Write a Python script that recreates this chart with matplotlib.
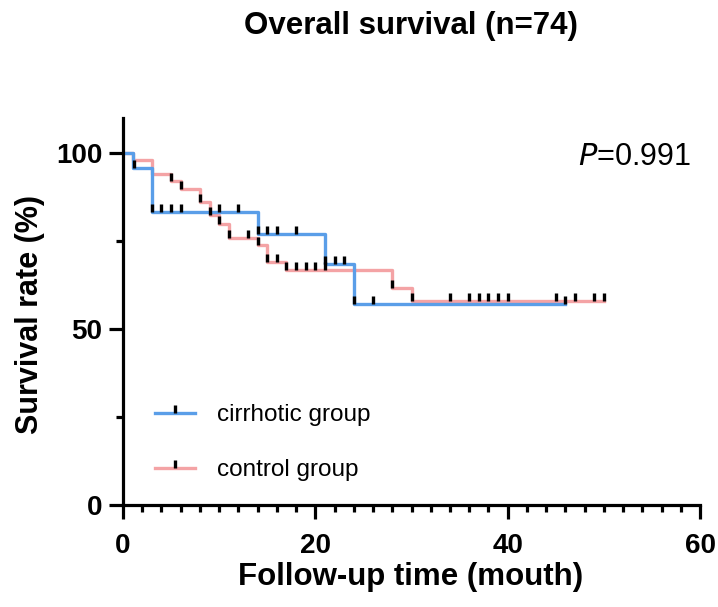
import numpy as np
import matplotlib
matplotlib.use('Agg')
import matplotlib.pyplot as plt
from matplotlib.lines import Line2D
from matplotlib.ticker import MultipleLocator, FixedLocator

plt.rcParams['font.family'] = ['Liberation Sans', 'DejaVu Sans']

# Kaplan-Meier steps (time in months, survival in %)
cirr_time = [0, 1, 3, 14, 21, 24, 46]
cirr_surv = [100, 95.8, 83.3, 77.0, 68.5, 57.0, 57.0]
cirr_censor = [1.1, 3, 4, 5, 6, 10, 12, 14, 15, 16, 18, 21, 22, 23, 24, 26, 46]

ctrl_time = [0, 1, 3, 5, 6, 8, 9, 10, 11, 14, 15, 17, 28, 30, 50]
ctrl_surv = [100, 98, 94, 92, 89.8, 86, 82.4, 80, 75.8, 73.9, 69.2, 66.7, 61.8, 58, 58]
ctrl_censor = [5, 6, 8, 9, 10, 11, 13, 14, 15, 16, 17, 18, 19, 20, 21, 28, 30,
               34, 36, 37, 38, 39, 40, 45, 47, 49, 50]

labels = ['cirrhotic group', 'control group']
colors = ['#5a9ee8', '#f4a3a5']
p_text = '0.991'

# censor tick: short vertical line standing on the curve
tick = [(0, 0), (0, 1)]


def surv_at(times, surv, t):
    idx = np.searchsorted(times, t, side='right') - 1
    return np.asarray(surv)[idx]


fig = plt.figure(figsize=(7.18, 6.07), dpi=100)
ax = fig.add_axes([123 / 718, 1 - 505 / 607, 577 / 718, 387 / 607])

series = [(ctrl_time, ctrl_surv, ctrl_censor, colors[1]),
          (cirr_time, cirr_surv, cirr_censor, colors[0])]
for times, surv, cens, col in series:
    ax.step(times, surv, where='post', color=col, lw=2.4, zorder=2)
for times, surv, cens, col in series:
    ax.plot(cens, surv_at(times, surv, cens), linestyle='none', marker=tick,
            ms=11.5, mec='black', mfc='black', mew=2.4, zorder=3)

ax.set_xlim(0, 60)
ax.set_ylim(0, 110)
ax.xaxis.set_major_locator(MultipleLocator(20))
ax.xaxis.set_minor_locator(MultipleLocator(2))
ax.yaxis.set_major_locator(FixedLocator([0, 50, 100]))
ax.yaxis.set_minor_locator(FixedLocator([25, 75]))

for side in ['top', 'right']:
    ax.spines[side].set_visible(False)
for side in ['left', 'bottom']:
    ax.spines[side].set_linewidth(2.3)

ax.tick_params(which='major', length=10, width=2.3, labelsize=20)
ax.tick_params(which='minor', length=5, width=2.3)
ax.tick_params(axis='x', which='major', pad=10)
ax.tick_params(axis='y', which='major', pad=5)
for lab in ax.get_xticklabels() + ax.get_yticklabels():
    lab.set_fontweight('bold')

handles = [Line2D([], [], color=colors[0], lw=2.4, marker=tick, ms=11.5,
                  mec='black', mfc='black', mew=2.4),
           Line2D([], [], color=colors[1], lw=2.4, marker=tick, ms=11.5,
                  mec='black', mfc='black', mew=2.4)]
ax.legend(handles, labels, loc='upper left', bbox_to_anchor=(0.018, 0.317),
          frameon=False, fontsize=17.5, numpoints=1, handlelength=1.65,
          handletextpad=0.9, labelspacing=1.35)

ax.text(0.985, 0.9, '$\\it{P}$=' + p_text, transform=ax.transAxes,
        ha='right', va='center', fontsize=22)

fig.text(411 / 718, 1 - 26 / 607, 'Overall survival (n=74)', ha='center',
         va='center', fontsize=22.5, fontweight='bold')
fig.text(411 / 718, 1 - 577 / 607, 'Follow-up time (mouth)', ha='center',
         va='center', fontsize=22.5, fontweight='bold')
fig.text(30 / 718, 1 - 314 / 607, 'Survival rate (%)', ha='center',
         va='center', rotation=90, fontsize=22, fontweight='bold')

fig.savefig('out.png', dpi=100)
